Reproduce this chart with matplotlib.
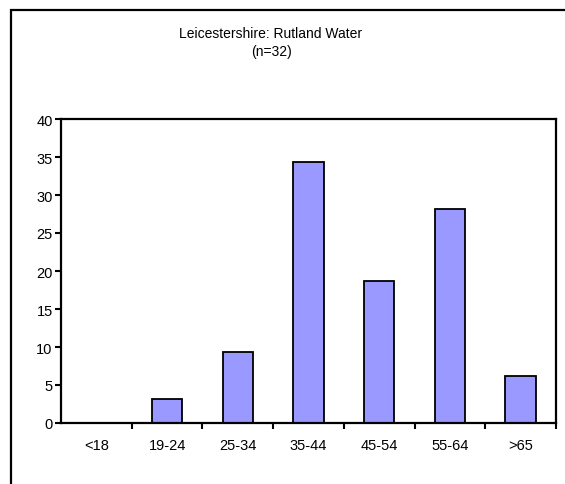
import matplotlib
matplotlib.use("Agg")
import matplotlib.pyplot as plt
from matplotlib.patches import Rectangle

plt.rcParams["font.family"] = ["Liberation Sans", "DejaVu Sans"]

# age bands and share of respondents (%), n=32
AGE_GROUPS = ["<18", "19-24", "25-34", "35-44", "45-54", "55-64", ">65"]
PERCENT = [0.0, 3.125, 9.375, 34.375, 18.75, 28.125, 6.25]
Y_TICKS = [0, 5, 10, 15, 20, 25, 30, 35, 40]
TITLE = "Leicestershire: Rutland Water\n(n=32)"

W, H = 565, 485
fig = plt.figure(figsize=(W / 100, H / 100), dpi=100)

# outer chart frame, running off the right and bottom edges
fig.patches.append(Rectangle((11 / W, -0.1), 1.2, (H - 11) / H + 0.1,
                             transform=fig.transFigure, fill=False,
                             edgecolor="black", linewidth=1.6))

ax = fig.add_axes([61 / W, (H - 424) / H, (556 - 61) / W, (424 - 120) / H])

x = list(range(len(AGE_GROUPS)))
ax.bar(x, PERCENT, width=0.43, color="#9999FF", edgecolor="black",
       linewidth=1.3)

ax.set_xlim(-0.5, len(AGE_GROUPS) - 0.5)
ax.set_ylim(0, 40)
ax.set_yticks(Y_TICKS)
ax.set_xticks(x)
ax.set_xticklabels(AGE_GROUPS, fontsize=10.5)
ax.tick_params(axis="x", length=0, pad=11)
ax.set_xticks([i + 0.5 for i in x], minor=True)
ax.tick_params(axis="x", which="minor", length=4, width=1.5, direction="out")
ax.tick_params(axis="y", length=4, width=1.5, direction="out", labelsize=10.5,
               pad=2)

for s in ax.spines.values():
    s.set_linewidth(1.6)

fig.text(271 / W, (H - 43) / H, TITLE, ha="center", va="center",
         fontsize=10, linespacing=1.45)

fig.savefig("out.png", dpi=100)
